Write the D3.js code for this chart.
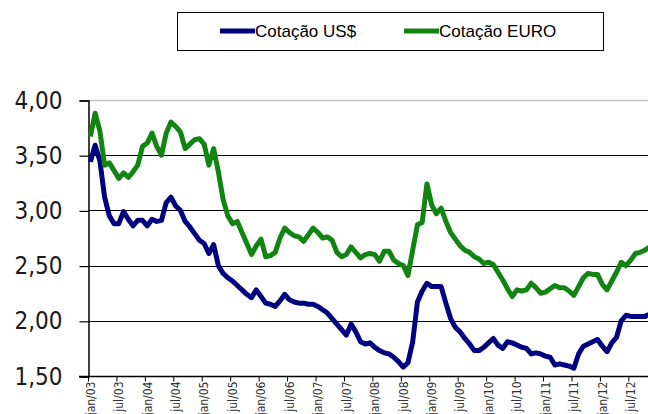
<!DOCTYPE html>
<html>
<head>
<meta charset="utf-8">
<script src="https://cdn.jsdelivr.net/npm/d3@7"></script>
<style>
  body { margin: 0; background: #fff; }
  svg { display: block; }
</style>
</head>
<body>
<div class="chart"></div>
<script>
// monthly quotes, jan/03 onwards
var usd = [
  3.44, 3.59, 3.45, 3.12, 2.95, 2.88, 2.88, 2.99, 2.92, 2.86, 2.91, 2.91,
  2.86, 2.92, 2.90, 2.91, 3.07, 3.12, 3.04, 3.00, 2.90, 2.85, 2.79, 2.73,
  2.70, 2.61, 2.69, 2.50, 2.43, 2.39, 2.36, 2.32, 2.28, 2.24, 2.21, 2.28,
  2.22, 2.16, 2.15, 2.13, 2.18, 2.24, 2.19, 2.17, 2.16, 2.16, 2.15, 2.15,
  2.13, 2.10, 2.07, 2.02, 1.97, 1.92, 1.87, 1.97, 1.90, 1.81, 1.79, 1.80,
  1.76, 1.73, 1.71, 1.70, 1.67, 1.63, 1.58, 1.62, 1.81, 2.17, 2.27, 2.34,
  2.31, 2.31, 2.31, 2.16, 2.02, 1.94, 1.90, 1.84, 1.79, 1.73, 1.73, 1.76,
  1.80, 1.84, 1.78, 1.75, 1.81, 1.80, 1.78, 1.76, 1.75, 1.70, 1.71, 1.70,
  1.68, 1.67, 1.60, 1.61, 1.60, 1.59, 1.57, 1.70, 1.77, 1.79, 1.81, 1.83,
  1.77, 1.72, 1.80, 1.85, 2.00, 2.05, 2.04, 2.04, 2.04, 2.04, 2.06
];

var euro = [
  3.67, 3.88, 3.72, 3.41, 3.43, 3.36, 3.29, 3.34, 3.30, 3.35, 3.41, 3.58,
  3.61, 3.70, 3.58, 3.50, 3.70, 3.80, 3.76, 3.71, 3.56, 3.60, 3.64, 3.65,
  3.60, 3.41, 3.56, 3.35, 3.10, 2.95, 2.88, 2.90, 2.80, 2.70, 2.60, 2.68,
  2.74, 2.58, 2.59, 2.62, 2.75, 2.84, 2.80, 2.77, 2.76, 2.72, 2.78, 2.84,
  2.80, 2.75, 2.76, 2.73, 2.62, 2.58, 2.60, 2.67, 2.62, 2.57, 2.60, 2.61,
  2.60, 2.54, 2.63, 2.63, 2.55, 2.52, 2.50, 2.41, 2.64, 2.87, 2.89, 3.24,
  3.05, 2.97, 3.02, 2.90, 2.80, 2.74, 2.68, 2.64, 2.62, 2.58, 2.56, 2.52,
  2.53, 2.51, 2.44, 2.37, 2.29, 2.22, 2.28, 2.27, 2.28, 2.34, 2.30, 2.25,
  2.26, 2.29, 2.32, 2.30, 2.30, 2.27, 2.23, 2.31, 2.39, 2.43, 2.42, 2.42,
  2.33, 2.28, 2.36, 2.44, 2.53, 2.50, 2.55, 2.61, 2.62, 2.64, 2.67
];

var tickLabels = [
  'jan/03', 'jul/03', 'jan/04', 'jul/04', 'jan/05', 'jul/05', 'jan/06', 'jul/06',
  'jan/07', 'jul/07', 'jan/08', 'jul/08', 'jan/09', 'jul/09', 'jan/10', 'jul/10',
  'jan/11', 'jul/11', 'jan/12', 'jul/12'
];

var yTicks = [1.5, 2.0, 2.5, 3.0, 3.5, 4.0];

var series = [
  { name: 'Cotação US$', values: usd, color: '#000080' },
  { name: 'Cotação EURO', values: euro, color: '#128412' }
];

var width = 648;
var height = 414;
var plotLeft = 88;
var plotTop = 100;
var plotBottom = 376;
var monthWidth = 4.74;

var ptBR = d3.formatLocale({ decimal: ',', thousands: '.', grouping: [3], currency: ['R$', ''] });
var fmt = ptBR.format('.2f');

var svg = d3.select('.chart')
  .append('svg')
  .attr('width', width)
  .attr('height', height);

svg.append('rect')
  .attr('width', width)
  .attr('height', height)
  .attr('fill', '#fff');

var x = d3.scaleLinear()
  .domain([0, 120])
  .range([plotLeft, plotLeft + 120 * monthWidth]);

var y = d3.scaleLinear()
  .domain([1.5, 4])
  .range([plotBottom, plotTop]);

// gridlines + y ticks
svg.append('g')
  .selectAll('line')
  .data(yTicks)
  .enter()
  .append('line')
  .attr('x1', plotLeft)
  .attr('x2', width)
  .attr('y1', function(d) { return Math.round(y(d)) + 0.5; })
  .attr('y2', function(d) { return Math.round(y(d)) + 0.5; })
  .attr('stroke', function(d) { return d === 4 ? '#c4c4c4' : '#000'; })
  .attr('stroke-width', function(d) { return d === 4 ? 1.5 : 1.2; });

var yAxis = d3.axisLeft(y)
  .tickValues(yTicks)
  .tickSize(9)
  .tickPadding(17)
  .tickFormat(fmt);

var gy = svg.append('g')
  .attr('transform', 'translate(' + (plotLeft + 0.5) + ',0.5)')
  .call(yAxis);
gy.select('.domain').attr('stroke', '#000').attr('stroke-width', 1.5);
gy.selectAll('.tick line').attr('stroke', '#000').attr('stroke-width', 1.2);
gy.selectAll('.tick text')
  .attr('font-family', '"DejaVu Sans Condensed", "DejaVu Sans", sans-serif')
  .attr('font-size', 24)
  .attr('fill', '#1a1a1a');

var xAxis = d3.axisBottom(x)
  .tickValues(d3.range(0, 120, 6))
  .tickSize(5)
  .tickSizeOuter(0)
  .tickFormat(function(d, i) { return tickLabels[i]; });

var gx = svg.append('g')
  .attr('transform', 'translate(0,' + (plotBottom + 0.5) + ')')
  .call(xAxis);
gx.select('.domain')
  .attr('d', 'M' + (plotLeft - 9) + ',0H' + width)
  .attr('stroke', '#000')
  .attr('stroke-width', 1.5);
gx.selectAll('.tick line').attr('stroke', '#000');
gx.selectAll('.tick text')
  .attr('font-family', '"DejaVu Sans Condensed", "DejaVu Sans", sans-serif')
  .attr('font-size', 12)
  .attr('fill', '#333')
  .attr('text-anchor', 'end')
  .attr('transform', 'translate(2,5) rotate(-90)')
  .attr('x', 0)
  .attr('y', 0)
  .attr('dy', '0.35em');

var line = d3.line()
  .x(function(d, i) { return x(i + 0.5); })
  .y(function(d) { return y(d); });

svg.append('g')
  .selectAll('path')
  .data(series)
  .enter()
  .append('path')
  .attr('d', function(d) { return line(d.values); })
  .attr('fill', 'none')
  .attr('stroke', function(d) { return d.color; })
  .attr('stroke-width', 5)
  .attr('stroke-linejoin', 'round');

// legend
var legend = svg.append('g').attr('class', 'legend');
legend.append('rect')
  .attr('x', 177.5)
  .attr('y', 12.5)
  .attr('width', 426)
  .attr('height', 38)
  .attr('fill', '#fff')
  .attr('stroke', '#000');

var items = legend.selectAll('.item')
  .data(series)
  .enter()
  .append('g')
  .attr('class', 'item')
  .attr('transform', function(d, i) {
    return 'translate(' + (220 + i * 184) + ',31)';
  });

items.append('line')
  .attr('x1', 0)
  .attr('x2', 35)
  .attr('stroke', function(d) { return d.color; })
  .attr('stroke-width', 5);

items.append('text')
  .attr('x', 35)
  .attr('y', 6)
  .attr('font-family', '"Liberation Sans", Arial, sans-serif')
  .attr('font-size', 17)
  .attr('fill', '#000')
  .text(function(d) { return d.name; });
</script>
</body>
</html>
